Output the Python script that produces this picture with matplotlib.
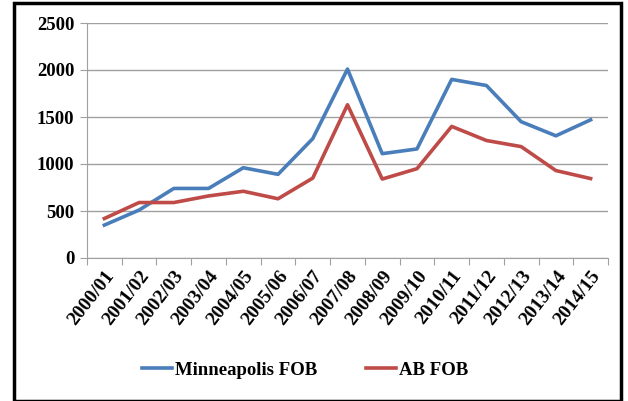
import matplotlib
matplotlib.use("Agg")
import matplotlib.pyplot as plt
from matplotlib.patches import Rectangle

seasons = ["2000/01", "2001/02", "2002/03", "2003/04", "2004/05", "2005/06",
           "2006/07", "2007/08", "2008/09", "2009/10", "2010/11", "2011/12",
           "2012/13", "2013/14", "2014/15"]
minneapolis_fob = [350, 510, 740, 740, 960, 890, 1270, 2010, 1110, 1160,
                   1900, 1835, 1450, 1300, 1470]
ab_fob = [420, 590, 590, 660, 710, 630, 850, 1630, 840, 950,
          1400, 1250, 1185, 930, 845]
yticks = [0, 500, 1000, 1500, 2000, 2500]

plt.rcParams['font.family'] = ['Liberation Serif', 'DejaVu Serif']

fig = plt.figure(figsize=(6.28, 4.01), dpi=100)
ax = fig.add_axes([87/628, 1-258/401, (608-87)/628, (258-23)/401])

x = list(range(len(seasons)))
l1, = ax.plot(x, minneapolis_fob, color='#4a7ebb', lw=2.6, label='Minneapolis FOB')
l2, = ax.plot(x, ab_fob, color='#be4b48', lw=2.6, label='AB FOB')

ax.set_xlim(-0.5, len(seasons) - 0.5)
ax.set_ylim(0, 2500)
ax.set_yticks(yticks)
ax.set_yticklabels([str(v) for v in yticks], fontsize=13.5, fontweight='bold')
ax.yaxis.grid(True, color='#a0a0a0', lw=1)
ax.set_axisbelow(True)

ax.set_xticks([i - 0.5 for i in range(len(seasons) + 1)])
ax.set_xticklabels([])
ax.set_xticks(x, minor=True)
ax.set_xticklabels(seasons, minor=True, rotation=52, ha='right',
                   rotation_mode='anchor', fontsize=14, fontweight='bold')
ax.tick_params(axis='x', which='minor', length=0, pad=7)
ax.tick_params(axis='x', which='major', length=5, color='#a0a0a0')
ax.tick_params(axis='y', length=5, color='#a0a0a0', pad=4)

for s in ['top', 'right']:
    ax.spines[s].set_visible(False)
for s in ['left', 'bottom']:
    ax.spines[s].set_color('#a0a0a0')

fig.legend(handles=[l1, l2], loc='center', bbox_to_anchor=(305/628, 1-370/401),
           ncol=2, frameon=False, prop={'size': 13.5, 'weight': 'bold'},
           handlelength=1.6, handletextpad=0.15, columnspacing=2.6)

fig.patches.append(Rectangle((14/628, 0.5/401), (621-14)/628, (399-1)/401,
                             transform=fig.transFigure, fill=False,
                             edgecolor='black', lw=2.5))

fig.savefig('out.png', dpi=100)
